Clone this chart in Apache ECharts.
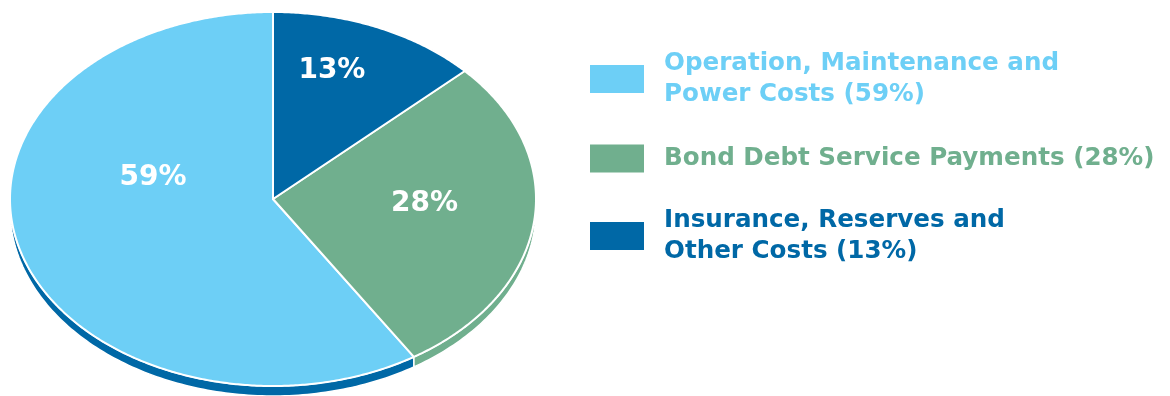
<!DOCTYPE html>
<html><head><meta charset="utf-8">
<script src="https://cdn.jsdelivr.net/npm/echarts@6/dist/echarts.min.js"></script>
<style>html,body{margin:0;padding:0;background:#fff}#c{width:1170px;height:396px}</style>
</head><body><div id="c"></div>
<script>
// ---- data ----
const categories = ['Operation, Maintenance and\nPower Costs (59%)', 'Bond Debt Service Payments (28%)', 'Insurance, Reserves and\nOther Costs (13%)'];
const values = [59, 28, 13];
const sliceLabels = ['59%', '28%', '13%'];

// ---- style ----
const topColors = ['#6DCFF6', '#70AF8E', '#0068A6'];
const sideColors = ['#0068A6', '#70AF8E', '#0068A6'];
const labelPos = [[-0.456, 0.112], [0.576, -0.027], [0.224, 0.688]]; // normalized label anchor in ellipse
const legendTextPad = [[0, 0, 4, 15], [0, 0, 0, 15], [0, 0, 0, 15]];
const DEPTH = 10;

const total = values.reduce((a, b) => a + b, 0);
// slices run clockwise from 12 o'clock, last category first
const starts = new Array(values.length);
let acc = 0;
for (let i = values.length - 1; i >= 0; i--) { starts[i] = acc; acc += values[i]; }

function renderItem(params, api) {
  const i = params.seriesIndex;
  const s = api.value(0) / total * 2 * Math.PI;
  const e = api.value(1) / total * 2 * Math.PI;
  const pt = t => api.coord([Math.sin(t), Math.cos(t)]);
  const children = [];
  // side wall (visible lower half: t in [pi/2, 3pi/2])
  const a = Math.max(s, Math.PI / 2), b = Math.min(e, 3 * Math.PI / 2);
  if (b > a) {
    const n = Math.max(6, Math.ceil((b - a) / (Math.PI / 180)));
    const up = [], down = [];
    for (let k = 0; k <= n; k++) {
      const p = pt(a + (b - a) * k / n);
      up.push(p); down.push([p[0], p[1] + DEPTH]);
    }
    children.push({ type: 'polygon', shape: { points: up.concat(down.reverse()) },
      style: { fill: sideColors[i], stroke: '#fff', lineWidth: 1.5, lineJoin: 'round' } });
  }
  // top face
  const n = Math.max(6, Math.ceil((e - s) / (Math.PI / 360)));
  const face = [api.coord([0, 0])];
  for (let k = 0; k <= n; k++) face.push(pt(s + (e - s) * k / n));
  children.push({ type: 'polygon', shape: { points: face },
    style: { fill: topColors[i], stroke: '#fff', lineWidth: 2, lineJoin: 'round' } });
  const lp = api.coord(labelPos[i]);
  children.push({ type: 'text', x: lp[0], y: lp[1],
    style: { text: sliceLabels[i], fill: '#fff', font: 'bold 28px "DejaVu Sans"', align: 'center', verticalAlign: 'middle' } });
  return { type: 'group', children };
}

const series = categories.map((name, i) => ({
  type: 'custom', name, renderItem, clip: false,
  coordinateSystem: 'cartesian2d',
  itemStyle: { color: topColors[i] },
  data: [[starts[i], starts[i] + values[i]]],
  encode: { x: [], y: [] },
  silent: true
}));

const chart = echarts.init(document.getElementById('c'), null, { renderer: 'canvas' });
chart.setOption({
  animation: false,
  grid: { left: 10, top: 12, width: 526, height: 374 },
  xAxis: { type: 'value', min: -1, max: 1, show: false },
  yAxis: { type: 'value', min: -1, max: 1, show: false },
  legend: {
    orient: 'vertical', left: 590, top: 45.5, padding: 0, itemWidth: 54, itemHeight: 28, itemGap: 30.25,
    icon: 'rect', selectedMode: false,
    data: categories.map((name, i) => ({ name, itemStyle: { color: topColors[i] },
      textStyle: { color: topColors[i], padding: legendTextPad[i] } })),
    textStyle: { fontFamily: 'DejaVu Sans', fontWeight: 'bold', fontSize: 24.6, lineHeight: 31.5, padding: [0, 0, 0, 15] }
  },
  series
});
</script>
</body></html>
